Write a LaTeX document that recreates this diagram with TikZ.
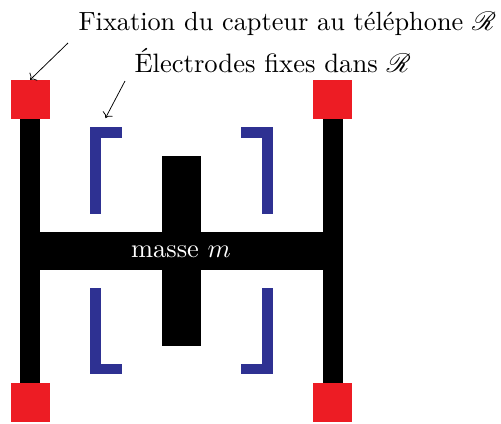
\documentclass[tikz,border=0pt]{standalone}
\usepackage{mathrsfs}
\usetikzlibrary{arrows.meta}
\definecolor{fixred}{RGB}{237,28,36}
\definecolor{elecblue}{RGB}{46,49,146}
\tikzset{
 blockbar/.style={fill=black,draw=none},
 fixpad/.style={fill=fixred,draw=none,inner sep=0pt,minimum width=38.8bp,minimum height=38.8bp},
 elec/.style={draw=elecblue,line width=10.5bp,line cap=butt,line join=miter},
 lbl/.style={inner sep=0pt,anchor=base west},
 lead/.style={draw=black,line width=0.75bp,-{Computer Modern Rightarrow[length=5bp,width=11bp]}}
}
\begin{document}
\begin{tikzpicture}[x=1bp,y=-1bp]
\useasboundingbox (0,0) rectangle (501,423);
\fill[blockbar] (20,100) rectangle (40,402);
\fill[blockbar] (322.5,100) rectangle (342.5,402);
\fill[blockbar] (20,231.5) rectangle (342.5,270);
\fill[blockbar] (162,156) rectangle (201,346);
\node[fixpad] (tl) at (30.1,99.4) {};
\node[fixpad] (tr) at (332.5,99.4) {};
\node[fixpad] (bl) at (30.1,402.4) {};
\node[fixpad] (br) at (332.5,402.4) {};
\draw[elec] (121.5,132.7) -- (95.3,132.7) -- (95.3,213.5);
\draw[elec] (241,132.7) -- (267.5,132.7) -- (267.5,213.5);
\draw[elec] (121.5,369.2) -- (95.3,369.2) -- (95.3,288);
\draw[elec] (241,369.2) -- (267.5,369.2) -- (267.5,288);
\node[text=white,inner sep=0pt,anchor=base,scale=2.65] (mass) at (181,257) {masse $m$};
\node[lbl,scale=2.64] (fix) at (78,30) {Fixation du capteur au téléphone $\mathscr{R}$};
\node[lbl,scale=2.67] (ele) at (134,72) {Électrodes fixes dans $\mathscr{R}$};
\coordinate (fixs) at (68,43);
\coordinate (eles) at (125,81);
\coordinate (elee) at (105.5,118);
\draw[lead] (fixs) -- (tl.north);
\draw[lead] (eles) -- (elee);
\end{tikzpicture}
\end{document}
